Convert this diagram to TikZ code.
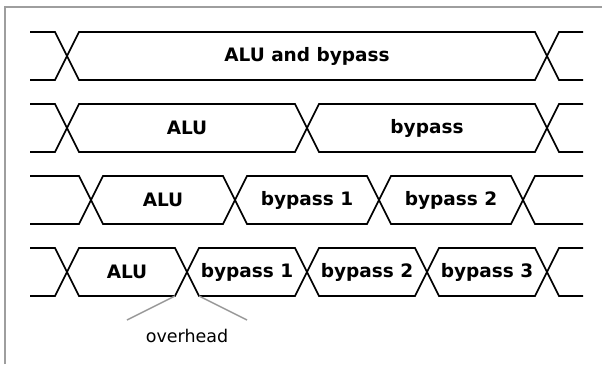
\documentclass[tikz,border=0pt]{standalone}
\usepackage{fontspec}
\setmainfont{DejaVu Sans}
\begin{document}
\begin{tikzpicture}[x=1pt,y=-1pt,
  bus/.style={draw=black,line width=1.6pt,line join=miter},
  frameline/.style={draw=black!38,line width=2pt},
  note/.style={draw=black!40,line width=1.4pt},
  lbl/.style={font=\fontsize{18.5}{22}\selectfont\bfseries,inner sep=0pt},
  notelbl/.style={font=\fontsize{17.5}{21}\selectfont,inner sep=0pt}]
\useasboundingbox (0,0) rectangle (602,364);
% frame edges
\draw[frameline] (5,364) -- (5,7) -- (602,7);
% bus segment between two transitions, at row centre #1
\newcommand\busseg[3]{\draw[bus] (#2,#1) -- (#2+12,#1-24) -- (#3-12,#1-24) -- (#3,#1) -- (#3-12,#1+24) -- (#2+12,#1+24) -- cycle;}
\newcommand\busin[2]{\draw[bus] (30,#1-24) -- (#2-12,#1-24) -- (#2,#1) -- (#2-12,#1+24) -- (30,#1+24);}
\newcommand\busout[2]{\draw[bus] (583,#1-24) -- (#2+12,#1-24) -- (#2,#1) -- (#2+12,#1+24) -- (583,#1+24);}
% row 1
\busin{56}{67}\busseg{56}{67}{547}\busout{56}{547}
\node[lbl] (r1a) at (307,56) {ALU and bypass};
% row 2
\busin{128}{67}\busseg{128}{67}{307}\busseg{128}{307}{547}\busout{128}{547}
\node[lbl] (r2a) at (187,128) {ALU};
\node[lbl] (r2b) at (427,128) {bypass};
% row 3
\busin{200}{91}\busseg{200}{91}{235}\busseg{200}{235}{379}\busseg{200}{379}{523}\busout{200}{523}
\node[lbl] (r3a) at (163,200) {ALU};
\node[lbl] (r3b) at (307,200) {bypass 1};
\node[lbl] (r3c) at (451,200) {bypass 2};
% row 4
\busin{272}{67}\busseg{272}{67}{187}\busseg{272}{187}{307}\busseg{272}{307}{427}\busseg{272}{427}{547}\busout{272}{547}
\node[lbl] (r4a) at (127,272) {ALU};
\node[lbl] (r4b) at (247,272) {bypass 1};
\node[lbl] (r4c) at (367,272) {bypass 2};
\node[lbl] (r4d) at (487,272) {bypass 3};
% overhead annotation
\coordinate (ovl) at (175,296);
\coordinate (ovr) at (199,296);
\coordinate (ovla) at (127,320);
\coordinate (ovra) at (247,320);
\node[notelbl] (ovh) at (187,336) {overhead};
\draw[note] (ovl) -- (ovla);
\draw[note] (ovr) -- (ovra);
\end{tikzpicture}
\end{document}
